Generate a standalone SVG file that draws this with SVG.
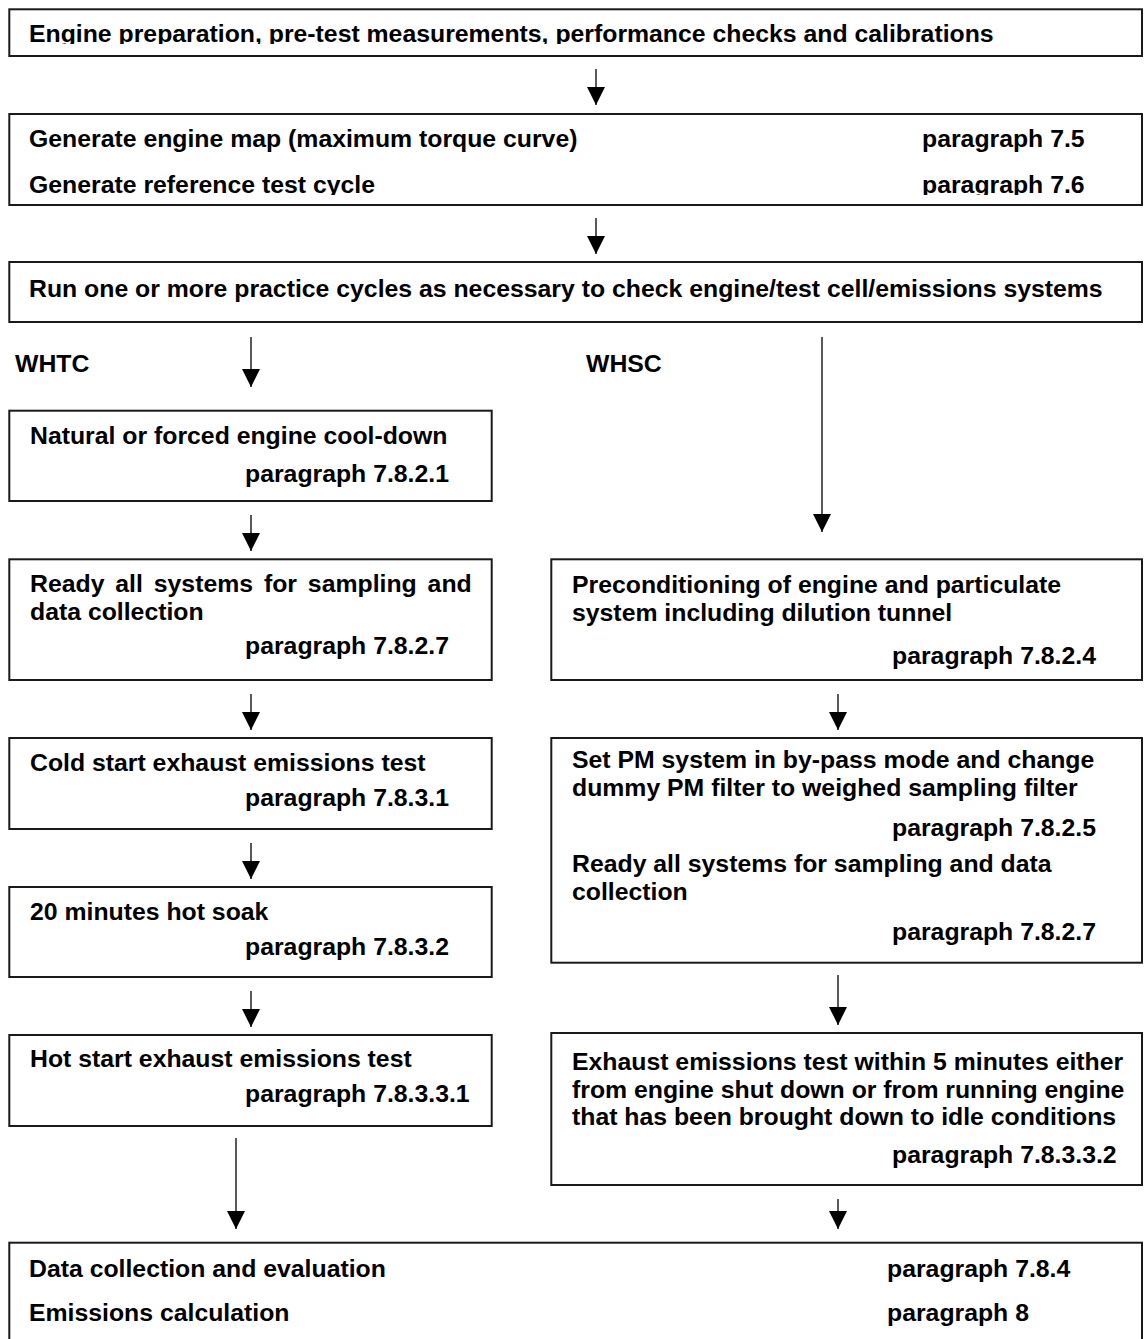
<svg xmlns="http://www.w3.org/2000/svg" width="1148" height="1339" viewBox="0 0 1148 1339">
<defs>
<style>
.box{fill:#fff;stroke:#1a1a1a;stroke-width:2}
.t{font-family:"Liberation Sans",Arial,sans-serif;font-weight:bold;font-size:24.8px;fill:#000}
.c{stroke:#000;stroke-width:1.3;fill:none}
</style>
<marker id="ah" markerUnits="userSpaceOnUse" markerWidth="18" markerHeight="18" refX="18" refY="9" orient="auto"><path d="M0,0 L18,9 L0,18 z" fill="#000"/></marker>
<clipPath id="clipA"><rect x="0" y="0" width="1148" height="44"/></clipPath>
<clipPath id="clipB2"><rect x="0" y="160" width="1148" height="35"/></clipPath>
</defs>
<rect width="1148" height="1339" fill="#fff"/>

<g id="connectors">
<line class="c" x1="596" y1="69" x2="596" y2="105" marker-end="url(#ah)"/>
<line class="c" x1="596" y1="218" x2="596" y2="254" marker-end="url(#ah)"/>
<line class="c" x1="251" y1="337" x2="251" y2="387" marker-end="url(#ah)"/>
<line class="c" x1="822" y1="337" x2="822" y2="532" marker-end="url(#ah)"/>
<line class="c" x1="251" y1="515" x2="251" y2="551" marker-end="url(#ah)"/>
<line class="c" x1="251" y1="694" x2="251" y2="730" marker-end="url(#ah)"/>
<line class="c" x1="251" y1="843" x2="251" y2="879" marker-end="url(#ah)"/>
<line class="c" x1="251" y1="991" x2="251" y2="1027" marker-end="url(#ah)"/>
<line class="c" x1="236" y1="1138" x2="236" y2="1229" marker-end="url(#ah)"/>
<line class="c" x1="838" y1="694" x2="838" y2="730" marker-end="url(#ah)"/>
<line class="c" x1="838" y1="975" x2="838" y2="1025" marker-end="url(#ah)"/>
<line class="c" x1="838" y1="1199" x2="838" y2="1229" marker-end="url(#ah)"/>
</g>

<g id="labels">
<text class="t" x="15" y="372">WHTC</text>
<text class="t" x="586" y="372">WHSC</text>
</g>

<g id="node-prep">
<rect class="box" x="9.3" y="9.3" width="1132.7" height="46.7"/>
<text class="t" x="29" y="42" clip-path="url(#clipA)">Engine preparation, pre-test measurements, performance checks and calibrations</text>
</g>

<g id="node-map">
<rect class="box" x="9.3" y="114" width="1132.7" height="91"/>
<text class="t" x="29" y="147">Generate engine map (maximum torque curve)</text>
<text class="t" x="922" y="147">paragraph 7.5</text>
<g clip-path="url(#clipB2)">
<text class="t" x="29" y="192.7">Generate reference test cycle</text>
<text class="t" x="922" y="192.7">paragraph 7.6</text>
</g>
</g>

<g id="node-practice">
<rect class="box" x="9.3" y="262" width="1132.7" height="60"/>
<text class="t" x="29" y="297">Run one or more practice cycles as necessary to check engine/test cell/emissions systems</text>
</g>

<g id="node-cooldown">
<rect class="box" x="9.3" y="410.7" width="482.4" height="90.3"/>
<text class="t" x="30" y="444">Natural or forced engine cool-down</text>
<text class="t" x="245" y="482">paragraph 7.8.2.1</text>
</g>

<g id="node-ready-whtc">
<rect class="box" x="9.3" y="559.3" width="482.4" height="120.7"/>
<text class="t" x="30" y="592" word-spacing="4">Ready all systems for sampling and</text>
<text class="t" x="30" y="620">data collection</text>
<text class="t" x="245" y="654">paragraph 7.8.2.7</text>
</g>

<g id="node-cold">
<rect class="box" x="9.3" y="738" width="482.4" height="91"/>
<text class="t" x="30" y="771">Cold start exhaust emissions test</text>
<text class="t" x="245" y="806">paragraph 7.8.3.1</text>
</g>

<g id="node-soak">
<rect class="box" x="9.3" y="887" width="482.4" height="90"/>
<text class="t" x="30" y="920">20 minutes hot soak</text>
<text class="t" x="245" y="955">paragraph 7.8.3.2</text>
</g>

<g id="node-hot">
<rect class="box" x="9.3" y="1035" width="482.4" height="91"/>
<text class="t" x="30" y="1067">Hot start exhaust emissions test</text>
<text class="t" x="245" y="1102">paragraph 7.8.3.3.1</text>
</g>

<g id="node-precond">
<rect class="box" x="551.3" y="559.3" width="590.7" height="120.7"/>
<text class="t" x="572" y="593">Preconditioning of engine and particulate</text>
<text class="t" x="572" y="621">system including dilution tunnel</text>
<text class="t" x="892" y="664">paragraph 7.8.2.4</text>
</g>

<g id="node-pm">
<rect class="box" x="551.3" y="738" width="590.7" height="224.7"/>
<text class="t" x="572" y="768">Set PM system in by-pass mode and change</text>
<text class="t" x="572" y="796">dummy PM filter to weighed sampling filter</text>
<text class="t" x="892" y="836">paragraph 7.8.2.5</text>
<text class="t" x="572" y="872">Ready all systems for sampling and data</text>
<text class="t" x="572" y="900">collection</text>
<text class="t" x="892" y="940">paragraph 7.8.2.7</text>
</g>

<g id="node-whsc-test">
<rect class="box" x="551.3" y="1033" width="590.7" height="152"/>
<text class="t" x="572" y="1070">Exhaust emissions test within 5 minutes either</text>
<text class="t" x="572" y="1098">from engine shut down or from running engine</text>
<text class="t" x="572" y="1125">that has been brought down to idle conditions</text>
<text class="t" x="892" y="1163">paragraph 7.8.3.3.2</text>
</g>

<g id="node-data">
<rect class="box" x="9.3" y="1242.7" width="1132.7" height="130"/>
<text class="t" x="29" y="1277">Data collection and evaluation</text>
<text class="t" x="887" y="1277">paragraph 7.8.4</text>
<text class="t" x="29" y="1321">Emissions calculation</text>
<text class="t" x="887" y="1321">paragraph 8</text>
</g>
</svg>
